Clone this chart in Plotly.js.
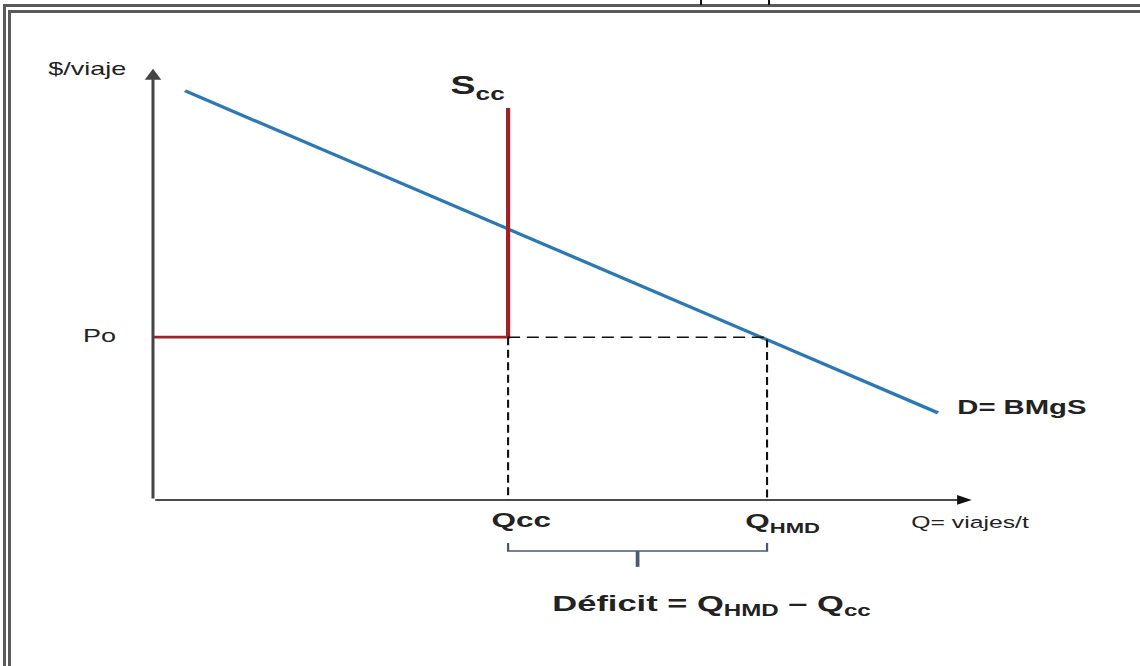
<!DOCTYPE html>
<html><head><meta charset="utf-8">
<script src="https://cdn.plot.ly/plotly-3.0.1.min.js"></script>
<style>
html,body{margin:0;padding:0;background:#fff;overflow:hidden;width:1140px;height:666px;}
#chart{position:absolute;left:0;top:0;width:760px;height:666px;transform:scaleX(1.5);transform-origin:0 0;}
.fr{position:absolute;background:#5a5a5a;}
.tk{position:absolute;background:#111;}
</style></head><body>
<div id="chart"></div>
<div class="fr" style="left:3px;top:4px;width:1137px;height:3px"></div>
<div class="fr" style="left:8px;top:10px;width:1132px;height:3px"></div>
<div class="fr" style="left:3px;top:4px;width:3px;height:662px"></div>
<div class="fr" style="left:8px;top:10px;width:3px;height:656px"></div>
<div class="tk" style="left:700px;top:0;width:2px;height:5px"></div>
<div class="tk" style="left:768px;top:0;width:2px;height:5px"></div>
<script>
// ---- data (model units) ----
const demandQ = [0.39, 9.55];
const demandP = [9.30, 1.98];
const Qcc = 4.32;
const QHMD = 7.47;
const Po = 3.70;
const supplyTop = 8.91;
const axisX = [0, 9.96];
const axisY = [0, 9.80];
const bracketY = [-0.98, -1.16, -1.52];
const labelTexts = [
  "$/viaje",
  "<b>S<sub>cc</sub></b>",
  "Po",
  "<b>Qcc</b>",
  "<b>Q<sub>HMD</sub></b>",
  "Q= viajes/t",
  "<b>D= BMgS</b>",
  "<b>Déficit = Q<sub>HMD</sub> – Q<sub>cc</sub></b>"
];

const FONT = "Arial, 'Liberation Sans', sans-serif";
const blue = "#2b78b4", red = "#a3202a";

// label anchor points, derived from the model values
const labelX = [-0.8, Qcc - 0.37, -0.65, Qcc + 0.16, QHMD + 0.19, 9.94, demandQ[1] + 1.02, (Qcc + QHMD) / 2 + 0.9];
const labelY = [9.77, 9.36, Po, -0.5, -0.52, -0.55, 2.07, -2.39];
const labelSize = [18, 25, 18, 21, 21, 16.5, 19.5, 23];

const traces = [
  {x: demandQ, y: demandP, mode: "lines", line: {color: blue, width: 3}},
  {x: [0, Qcc, Qcc], y: [Po, Po, supplyTop], mode: "lines", line: {color: red, width: 2.8}},
  {x: [Qcc, QHMD, QHMD, null, Qcc, Qcc], y: [Po, Po, 0, null, Po, 0], mode: "lines",
   line: {color: "#111", width: 1.4, dash: "8px,4.5px"}},
  {x: [Qcc, Qcc, QHMD, QHMD], y: [bracketY[0], bracketY[1], bracketY[1], bracketY[0]], mode: "lines",
   line: {color: "#4a5878", width: 1.5}},
  {x: [(Qcc + QHMD) / 2, (Qcc + QHMD) / 2], y: [bracketY[1], bracketY[2]], mode: "lines",
   line: {color: "#4a5878", width: 2.5}},
  {x: labelX, y: labelY, text: labelTexts, mode: "text", textposition: "middle center",
   textfont: {family: FONT, size: labelSize, color: "#222222"}, cliponaxis: false}
];

const annotations = [
  {x: axisX[1], y: 0, ax: axisX[0], ay: 0, xref: "x", yref: "y", axref: "x", ayref: "y",
   text: "", showarrow: true, arrowhead: 2, arrowsize: 1.3, arrowwidth: 1.5, arrowcolor: "#111"},
  {x: 0, y: axisY[1], ax: 0, ay: axisY[0], xref: "x", yref: "y", axref: "x", ayref: "y",
   text: "", showarrow: true, arrowhead: 2, arrowsize: 1.1, arrowwidth: 2, arrowcolor: "#444"}
];

const layout = {
  width: 760, height: 666,
  font: {family: FONT, size: 16, color: "#222222"},
  margin: {l: 0, r: 0, t: 0, b: 0},
  paper_bgcolor: "#ffffff", plot_bgcolor: "#ffffff",
  showlegend: false,
  xaxis: {range: [-1.861, 12.007], visible: false, fixedrange: true},
  yaxis: {range: [-3.773, 11.364], visible: false, fixedrange: true},
  annotations: annotations
};

Plotly.newPlot("chart", traces, layout, {displayModeBar: false, responsive: false}).then(function (gd) {
  gd.querySelectorAll("text, tspan").forEach(function (el) {
    const cs = window.getComputedStyle(el);
    if (cs.fontSize) el.setAttribute("font-size", cs.fontSize);
    if (cs.fontFamily) el.setAttribute("font-family", cs.fontFamily);
  });
});
</script>
</body></html>
